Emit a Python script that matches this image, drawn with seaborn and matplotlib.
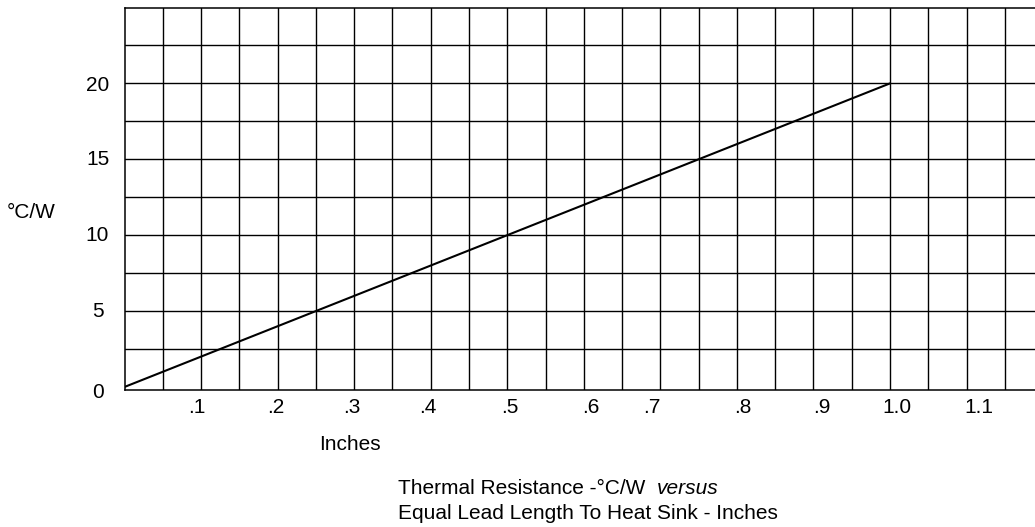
import numpy as np
import pandas as pd
import matplotlib
matplotlib.use("Agg")
import matplotlib.pyplot as plt
import seaborn as sns

# data: thermal resistance vs lead length
lead_length = [0.0, 1.0]
thermal_res = [0.0, 20.0]

x_tick_labels = [".1", ".2", ".3", ".4", ".5", ".6", ".7", ".8", ".9", "1.0", "1.1"]
y_tick_labels = ["0", "5", "10", "15", "20"]

df = pd.DataFrame({"inches": lead_length, "cw": thermal_res})

# style
sns.set_theme(style="white")
plt.rcParams["font.family"] = ["Liberation Sans", "DejaVu Sans"]
plt.rcParams["text.color"] = "black"

fs = 15

fig = plt.figure(figsize=(10.35, 5.27), dpi=100)
ax = fig.add_axes([124.5 / 1035, 137 / 527, 1 - 124.5 / 1035, 382.5 / 527])

sns.lineplot(data=df, x="inches", y="cw", color="black", linewidth=1.5, ax=ax)

ax.set_xlim(0, 910.5 / 765.5)
ax.set_ylim(0, 25)

# grid lines (inner ones only, border is drawn by the spines)
ax.set_xticks(np.arange(0.05, 1.16, 0.05))
ax.set_yticks(np.arange(2.5, 24, 2.5))
ax.tick_params(which="major", length=0, labelbottom=False, labelleft=False)
ax.grid(True, which="major", color="black", linewidth=1.0)
ax.set_axisbelow(True)

# label positions as drawn in the original (slightly off the grid)
x_label_pos = [0.095, 0.197, 0.297, 0.396, 0.504, 0.609, 0.689, 0.808, 0.911, 1.009, 1.116]
y_label_pos = [-0.2, 5.1, 10.1, 15.15, 20.0]
ax.xaxis.remove_overlapping_locs = False
ax.yaxis.remove_overlapping_locs = False
ax.set_xticks(x_label_pos, minor=True)
ax.set_xticklabels(x_tick_labels, minor=True)
ax.set_yticks(y_label_pos, minor=True)
ax.set_yticklabels(y_tick_labels, minor=True)
ax.tick_params(which="minor", length=0, labelsize=fs, colors="black")
ax.tick_params(axis="x", which="minor", pad=6)
ax.tick_params(axis="y", which="minor", pad=19.4)
for lab in ax.get_yticklabels(minor=True):
    lab.set_horizontalalignment("center")

for side in ["left", "bottom", "top"]:
    ax.spines[side].set_color("black")
    ax.spines[side].set_linewidth(1.1)
ax.spines["right"].set_visible(False)

ax.set_xlabel("")
ax.set_ylabel("")

fig.text(31 / 1035, 1 - 213 / 527, "\u00b0C/W", fontsize=fs, ha="center", va="center")
fig.text(350 / 1035, 1 - 445 / 527, "Inches", fontsize=fs, ha="center", va="center")

t1 = fig.text(398 / 1035, 33 / 527, "Thermal Resistance -\u00b0C/W ", fontsize=fs,
              ha="left", va="baseline")
ax.annotate("versus", xy=(1, 0), xycoords=t1, xytext=(4, 0), textcoords="offset points",
            fontsize=fs, style="italic", ha="left", va="bottom", annotation_clip=False)
fig.text(398 / 1035, 8 / 527, "Equal Lead Length To Heat Sink - Inches", fontsize=fs,
         ha="left", va="baseline")

plt.savefig("out.png", dpi=100)
